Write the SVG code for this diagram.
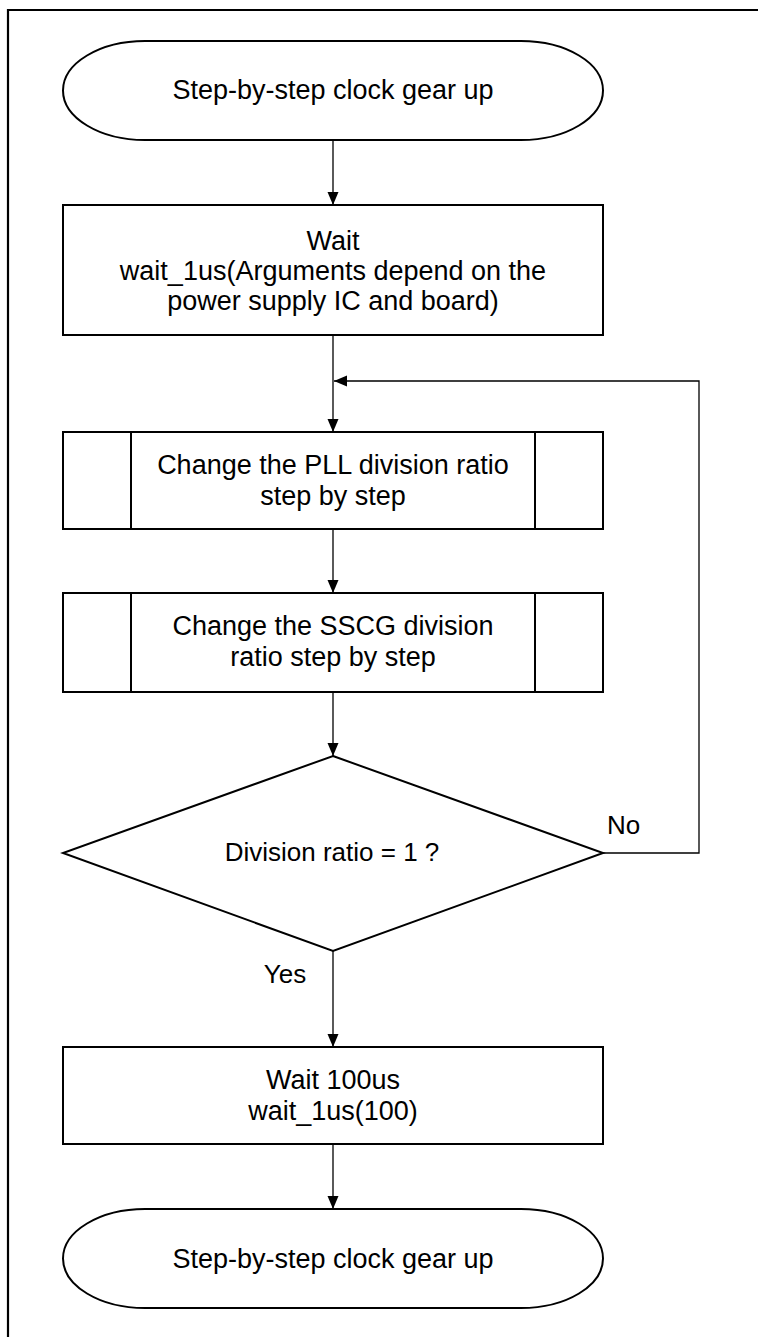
<svg xmlns="http://www.w3.org/2000/svg" width="758" height="1337" viewBox="0 0 758 1337">
<style>
.shape{fill:#fff;stroke:#000;stroke-width:2}
.conn{fill:none;stroke:#000;stroke-width:1.3}
text{font-family:"Liberation Sans",Arial,sans-serif;font-size:27px;fill:#000;text-anchor:middle}
.sm{font-size:26px}
.lbl{text-anchor:start}
</style>
<defs>
<marker id="arr" markerUnits="userSpaceOnUse" markerWidth="14" markerHeight="12" refX="13" refY="6" orient="auto">
<path d="M0,0.5 L13,6 L0,11.5 z" fill="#000"/>
</marker>
</defs>
<rect width="758" height="1337" fill="#fff"/>
<path d="M8,1337 V10 H758" fill="none" stroke="#000" stroke-width="2.2"/>
<g id="connectors">
<line class="conn" x1="333" y1="140" x2="333" y2="205" marker-end="url(#arr)"/>
<line class="conn" x1="333" y1="335" x2="333" y2="432" marker-end="url(#arr)"/>
<line class="conn" x1="333" y1="529" x2="333" y2="593" marker-end="url(#arr)"/>
<line class="conn" x1="333" y1="692" x2="333" y2="756" marker-end="url(#arr)"/>
<line class="conn" x1="333" y1="951" x2="333" y2="1047" marker-end="url(#arr)"/>
<line class="conn" x1="333" y1="1144" x2="333" y2="1209" marker-end="url(#arr)"/>
<polyline class="conn" points="603,853 699,853 699,381 334,381" marker-end="url(#arr)"/>
<text class="lbl sm" x="607" y="834">No</text>
<text class="sm" x="285" y="983">Yes</text>
</g>
<g id="start">
<rect class="shape" x="63" y="41" width="540" height="99" rx="82" ry="49.5"/>
<text x="333" y="99">Step-by-step clock gear up</text>
</g>
<g id="wait">
<rect class="shape" x="63" y="205" width="540" height="130"/>
<text x="333" y="250">Wait</text>
<text x="333" y="280">wait_1us(Arguments depend on the</text>
<text x="333" y="310">power supply IC and board)</text>
</g>
<g id="pll">
<rect class="shape" x="63" y="432" width="540" height="97"/>
<line class="shape" x1="131" y1="432" x2="131" y2="529"/>
<line class="shape" x1="535" y1="432" x2="535" y2="529"/>
<text x="333" y="474">Change the PLL division ratio</text>
<text x="333" y="505">step by step</text>
</g>
<g id="sscg">
<rect class="shape" x="63" y="593" width="540" height="99"/>
<line class="shape" x1="131" y1="593" x2="131" y2="692"/>
<line class="shape" x1="535" y1="593" x2="535" y2="692"/>
<text x="333" y="635">Change the SSCG division</text>
<text x="333" y="666">ratio step by step</text>
</g>
<g id="decision">
<polygon class="shape" points="333,756 603,853 333,951 63,853"/>
<text class="sm" x="332" y="861">Division ratio = 1 ?</text>
</g>
<g id="wait100">
<rect class="shape" x="63" y="1047" width="540" height="97"/>
<text x="333" y="1089">Wait 100us</text>
<text x="333" y="1120">wait_1us(100)</text>
</g>
<g id="end">
<rect class="shape" x="63" y="1209" width="540" height="99" rx="82" ry="49.5"/>
<text x="333" y="1268">Step-by-step clock gear up</text>
</g>
</svg>
